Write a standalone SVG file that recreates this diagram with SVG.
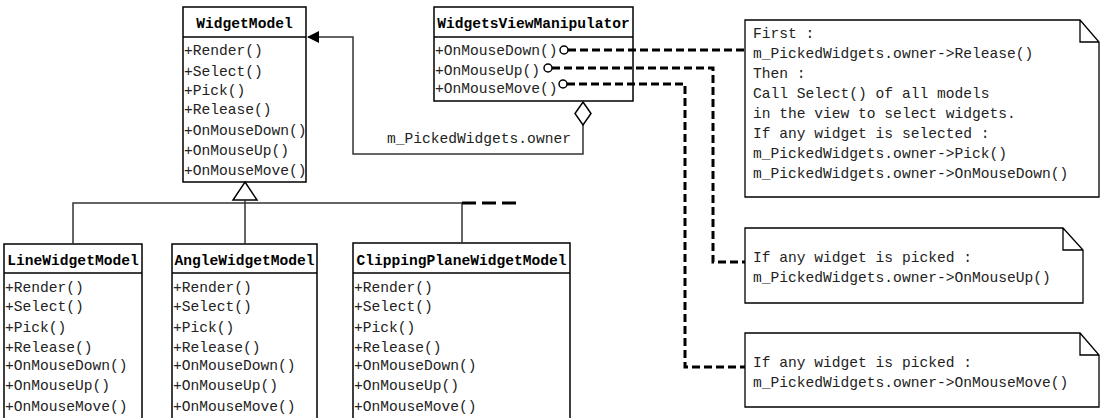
<svg xmlns="http://www.w3.org/2000/svg" width="1101" height="418" viewBox="0 0 1101 418">
<defs>
<style>
.box{fill:#fff;stroke:#000;stroke-width:1.5}
.sep{stroke:#000;stroke-width:1.5}
.t{font-family:"Liberation Mono",monospace;font-size:14.6px;fill:#000;font-weight:bold}
.m{font-family:"Liberation Mono",monospace;font-size:14.6px;fill:#222}
.ln{fill:none;stroke:#333;stroke-width:1.5}
.dash{fill:none;stroke:#000;stroke-width:3;stroke-dasharray:8,4}
.note{fill:#fff;stroke:#000;stroke-width:1.3}
.port{fill:#fff;stroke:#000;stroke-width:1.5}
</style>
<marker id="tri" markerWidth="12" markerHeight="12" refX="11" refY="6" orient="auto" markerUnits="userSpaceOnUse">
<path d="M0,0 L12,6 L0,12 Z" fill="#000"/>
</marker>
</defs>
<rect width="1101" height="418" fill="#fff"/>

<g id="WidgetModel">
<rect class="box" x="183" y="7" width="123" height="175"/>
<line class="sep" x1="183" y1="37" x2="306" y2="37"/>
<text class="t" x="244.5" y="28" text-anchor="middle">WidgetModel</text>
<text class="m" x="184" y="55">+Render()</text>
<text class="m" x="184" y="76">+Select()</text>
<text class="m" x="184" y="95">+Pick()</text>
<text class="m" x="184" y="114">+Release()</text>
<text class="m" x="184" y="135">+OnMouseDown()</text>
<text class="m" x="184" y="155">+OnMouseUp()</text>
<text class="m" x="184" y="175">+OnMouseMove()</text>
</g>

<g id="WidgetsViewManipulator">
<rect class="box" x="434" y="7" width="199" height="94"/>
<line class="sep" x1="434" y1="37" x2="633" y2="37"/>
<text class="t" x="533.5" y="28" text-anchor="middle">WidgetsViewManipulator</text>
<text class="m" x="435" y="55">+OnMouseDown()</text>
<text class="m" x="435" y="75">+OnMouseUp()</text>
<text class="m" x="435" y="93">+OnMouseMove()</text>
</g>

<g id="LineWidgetModel">
<rect class="box" x="4" y="244" width="138" height="180"/>
<line class="sep" x1="4" y1="273" x2="142" y2="273"/>
<text class="t" x="73" y="265" text-anchor="middle">LineWidgetModel</text>
<text class="m" x="5" y="292">+Render()</text>
<text class="m" x="5" y="311">+Select()</text>
<text class="m" x="5" y="332">+Pick()</text>
<text class="m" x="5" y="352">+Release()</text>
<text class="m" x="5" y="370">+OnMouseDown()</text>
<text class="m" x="5" y="390">+OnMouseUp()</text>
<text class="m" x="5" y="411">+OnMouseMove()</text>
</g>

<g id="AngleWidgetModel">
<rect class="box" x="172" y="244" width="145" height="180"/>
<line class="sep" x1="172" y1="273" x2="317" y2="273"/>
<text class="t" x="244.5" y="265" text-anchor="middle">AngleWidgetModel</text>
<text class="m" x="173" y="292">+Render()</text>
<text class="m" x="173" y="311">+Select()</text>
<text class="m" x="173" y="332">+Pick()</text>
<text class="m" x="173" y="352">+Release()</text>
<text class="m" x="173" y="370">+OnMouseDown()</text>
<text class="m" x="173" y="390">+OnMouseUp()</text>
<text class="m" x="173" y="411">+OnMouseMove()</text>
</g>

<g id="ClippingPlaneWidgetModel">
<rect class="box" x="353" y="243" width="217" height="181"/>
<line class="sep" x1="353" y1="273" x2="570" y2="273"/>
<text class="t" x="461.5" y="265" text-anchor="middle">ClippingPlaneWidgetModel</text>
<text class="m" x="354" y="292">+Render()</text>
<text class="m" x="354" y="311">+Select()</text>
<text class="m" x="354" y="332">+Pick()</text>
<text class="m" x="354" y="352">+Release()</text>
<text class="m" x="354" y="370">+OnMouseDown()</text>
<text class="m" x="354" y="390">+OnMouseUp()</text>
<text class="m" x="354" y="411">+OnMouseMove()</text>
</g>

<g id="note1">
<path class="note" d="M745,20 H1080 L1099,42 V197 H745 Z M1080,20 V42 H1099"/>
<text class="m" x="753" y="38">First :</text>
<text class="m" x="753" y="58">m_PickedWidgets.owner-&gt;Release()</text>
<text class="m" x="753" y="78">Then :</text>
<text class="m" x="753" y="98">Call Select() of all models</text>
<text class="m" x="753" y="118">in the view to select widgets.</text>
<text class="m" x="753" y="138">If any widget is selected :</text>
<text class="m" x="753" y="158">m_PickedWidgets.owner-&gt;Pick()</text>
<text class="m" x="753" y="178">m_PickedWidgets.owner-&gt;OnMouseDown()</text>
</g>

<g id="note2">
<path class="note" d="M745,228 H1063 L1083,250 V303 H745 Z M1063,228 V250 H1083"/>
<text class="m" x="753" y="262">If any widget is picked :</text>
<text class="m" x="753" y="282">m_PickedWidgets.owner-&gt;OnMouseUp()</text>
</g>

<g id="note3">
<path class="note" d="M745,333 H1080 L1099,355 V407 H745 Z M1080,333 V355 H1099"/>
<text class="m" x="753" y="367">If any widget is picked :</text>
<text class="m" x="753" y="387">m_PickedWidgets.owner-&gt;OnMouseMove()</text>
</g>

<g id="connectors">
<path class="ln" d="M583,125 V154 H353 V37 H308" marker-end="url(#tri)"/>
<path d="M583,102 L591,113.5 L583,125 L575,113.5 Z" fill="#fff" stroke="#000" stroke-width="1.5"/>
<text class="m" x="387" y="143">m_PickedWidgets.owner</text>
<path d="M245,182 L257,200 L233,200 Z" fill="#fff" stroke="#000" stroke-width="1.5"/>
<path class="ln" d="M245,200 V244 M73,244 V203 H462 V243"/>
<path d="M462,203 H518" fill="none" stroke="#000" stroke-width="3" stroke-dasharray="14,6"/>
<path class="dash" d="M568,50 H745"/>
<path class="dash" d="M552,68 H713 V262 H745"/>
<path class="dash" d="M567,84 H685 V367 H745"/>
<circle class="port" cx="564" cy="50" r="4"/>
<circle class="port" cx="548" cy="68" r="4"/>
<circle class="port" cx="563" cy="84" r="4"/>
</g>
</svg>
